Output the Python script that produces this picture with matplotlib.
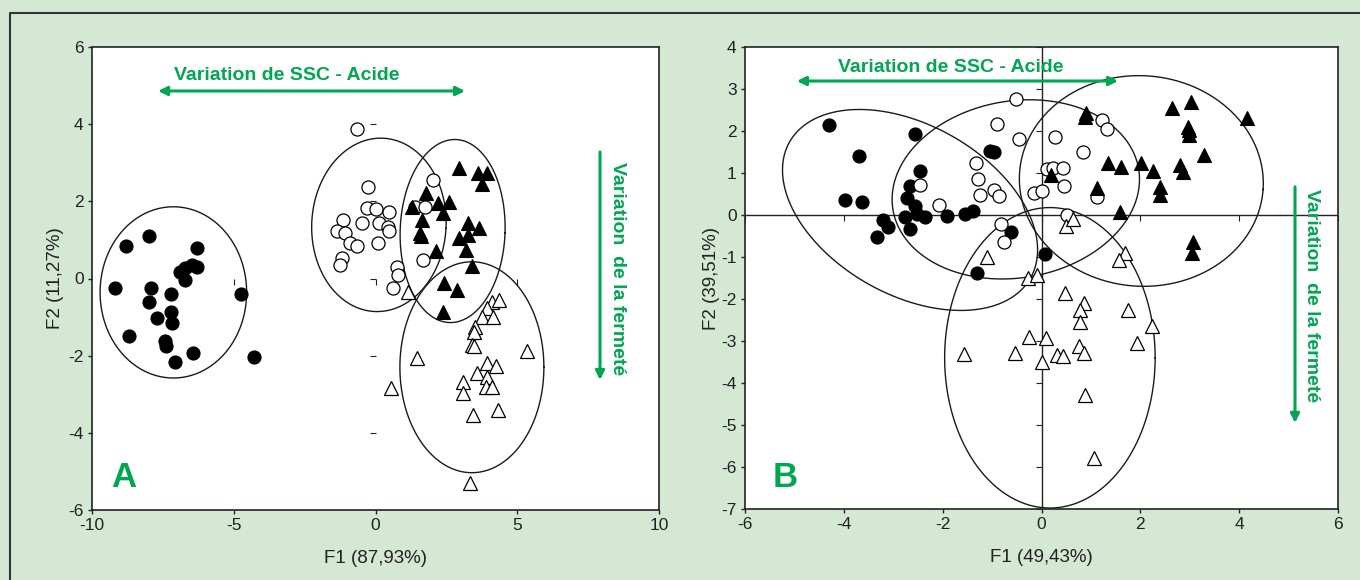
import numpy as np
import matplotlib
matplotlib.use('agg')
import matplotlib.pyplot as plt
from matplotlib.lines import Line2D
from matplotlib.markers import TICKDOWN, TICKLEFT

plt.rcParams['font.family'] = ['Liberation Sans', 'DejaVu Sans']
plt.rcParams['axes.unicode_minus'] = False

GREEN = '#00a651'
BG = '#d4e8d4'
NARROW = ['Liberation Sans Narrow', 'Liberation Sans', 'DejaVu Sans']

# ---- panel A data (F1 87,93% / F2 11,27%) ----
a_fc_x = [-8.80, -7.98, -6.31, -6.90, -6.72, -6.48, -6.31, -6.72, -9.19, -7.93, -7.22,
          -7.98, -4.74, -7.72, -7.22, -7.17, -8.68, -7.43, -7.39, -6.43, -7.07, -4.29]
a_fc_y = [0.85, 1.09, 0.79, 0.18, 0.27, 0.35, 0.31, -0.04, -0.25, -0.25, -0.41,
          -0.60, -0.41, -1.03, -0.88, -1.16, -1.49, -1.63, -1.76, -1.94, -2.17, -2.04]

a_oc_x = [-0.66, -0.28, -0.31, 0.02, 0.49, -1.14, -0.47, 0.13, 0.45, 0.49, -1.37, -1.08,
          -0.90, -0.66, 0.08, -1.19, -1.25, 0.75, 0.80, 0.63, 2.04, 1.39, 1.75, 1.69]
a_oc_y = [3.87, 2.37, 1.84, 1.80, 1.73, 1.52, 1.45, 1.45, 1.34, 1.22, 1.22, 1.19,
          0.91, 0.84, 0.93, 0.53, 0.35, 0.31, 0.09, -0.25, 2.54, 1.86, 1.85, 0.48]

a_ft_x = [2.96, 3.63, 3.92, 3.75, 1.78, 1.28, 2.22, 2.59, 2.37, 1.63, 1.57, 1.59,
          3.27, 3.65, 2.96, 3.27, 3.19, 2.13, 3.39, 2.43, 2.89, 2.39]
a_ft_y = [2.86, 2.73, 2.73, 2.45, 2.21, 1.86, 1.95, 1.97, 1.69, 1.52, 1.17, 1.09,
          1.43, 1.30, 1.04, 1.13, 0.74, 0.70, 0.33, -0.12, -0.30, -0.86]

a_ot_x = [1.16, 4.10, 4.37, 3.94, 3.75, 4.16, 3.51, 3.47, 3.39, 3.49, 1.45, 5.35,
          3.92, 4.25, 3.57, 3.10, 3.94, 3.90, 4.10, 3.08, 0.54, 4.33, 3.45, 3.33]
a_ot_y = [-0.34, -0.60, -0.55, -0.77, -1.00, -0.99, -1.25, -1.38, -1.72, -1.75, -2.06, -1.87,
          -2.19, -2.28, -2.45, -2.67, -2.54, -2.80, -2.80, -2.97, -2.84, -3.40, -3.53, -5.30]

# group ellipses: centre x, centre y, semi-axis a, semi-axis b (x units), angle (deg)
a_ell = [(-7.13, -0.36, 2.585, 3.02, 0),
         (0.12, 1.39, 2.37, 3.06, -3),
         (2.72, 1.23, 1.85, 3.23, -2),
         (3.40, -2.30, 2.54, 3.72, 0)]

# ---- panel B data (F1 49,43% / F2 39,51%) ----
b_fc_x = [-4.30, -2.56, -3.69, -1.04, -0.97, -2.46, -2.66, -3.98, -3.64, -2.73, -2.56, -2.76,
          -2.52, -2.36, -3.20, -3.10, -3.33, -2.67, -1.91, -1.55, -1.38, -0.61, -1.30, 0.08]
b_fc_y = [2.14, 1.92, 1.41, 1.52, 1.51, 1.05, 0.69, 0.36, 0.30, 0.40, 0.21, -0.04,
          0.02, -0.04, -0.12, -0.28, -0.52, -0.33, -0.02, 0.02, 0.10, -0.41, -1.37, -0.92]

b_oc_x = [-0.52, -0.90, -0.45, -1.32, -1.28, -1.24, -0.97, -0.87, -2.46, -2.07, -0.82, -0.76,
          1.22, 1.33, 0.28, 0.84, 0.11, 0.24, 0.44, 0.46, -0.16, 0.01, 1.12, 0.52]
b_oc_y = [2.77, 2.16, 1.80, 1.23, 0.85, 0.48, 0.60, 0.45, 0.71, 0.24, -0.21, -0.65,
          2.26, 2.04, 1.86, 1.51, 1.09, 1.11, 1.11, 0.69, 0.53, 0.58, 0.44, -0.01]

b_ft_x = [0.90, 0.88, 2.64, 3.03, 4.16, 2.97, 2.99, 2.99, 3.28, 0.19, 1.35, 1.61,
          2.01, 2.25, 2.81, 2.87, 2.39, 2.39, 1.13, 1.58, 3.06, 3.04]
b_ft_y = [2.42, 2.34, 2.54, 2.70, 2.30, 2.10, 2.02, 1.90, 1.43, 0.95, 1.23, 1.15,
          1.25, 1.05, 1.19, 1.03, 0.67, 0.48, 0.65, 0.08, -0.64, -0.90]

b_ot_x = [0.50, 0.63, 1.69, 1.56, -1.11, -0.27, -0.10, 0.48, 0.85, 0.77, 0.78, 1.76, 2.23,
          -0.25, 0.09, 1.93, 0.75, 0.87, -1.56, -0.53, 0.31, 0.44, 0.01, 0.88, 1.07]
b_ot_y = [-0.26, -0.10, -0.91, -1.07, -0.99, -1.51, -1.43, -1.86, -2.10, -2.25, -2.54, -2.26, -2.64,
          -2.90, -2.92, -3.04, -3.12, -3.28, -3.32, -3.29, -3.33, -3.36, -3.49, -4.29, -5.79]

b_ell = [(-2.66, 0.12, 2.80, 1.72, -29.4),
         (-0.52, 0.61, 2.52, 1.79, 9.4),
         (2.02, 0.81, 2.47, 2.13, -4),
         (0.17, -3.40, 2.13, 3.04, 0)]

a_xticks = [-10, -5, 0, 5, 10]
a_yticks = [-6, -4, -2, 0, 2, 4, 6]
b_xticks = [-6, -4, -2, 0, 2, 4, 6]
b_yticks = list(range(-7, 5))

W, H = 13.6, 5.8
fig = plt.figure(figsize=(W, H), dpi=100, facecolor=BG)


def draw_ellipse(ax, cx, cy, a, b, ang, k):
    t = np.linspace(0, 2 * np.pi, 400)
    u, v = a * np.cos(t), b * np.sin(t)
    r = np.radians(ang)
    dx = u * np.cos(r) - v * np.sin(r)
    dy = (u * np.sin(r) + v * np.cos(r)) * k
    ax.plot(cx + dx, cy + dy, color='#1a1a1a', lw=1.0, zorder=2)


def setup(rect, xlim, ylim, xt, yt):
    ax = fig.add_axes(rect)
    ax.set_facecolor('white')
    ax.set_xlim(*xlim)
    ax.set_ylim(*ylim)
    ax.set_xticks(xt)
    ax.set_yticks(yt)
    ax.tick_params(direction='out', length=3, width=1, pad=3, labelsize=12.5, colors='#222')
    for s in ax.spines.values():
        s.set_linewidth(1.2)
        s.set_color('#222')
    # pixel ratio x-unit / y-unit
    w_px = rect[2] * W * 100 / (xlim[1] - xlim[0])
    h_px = rect[3] * H * 100 / (ylim[1] - ylim[0])
    return ax, w_px / h_px


def points(ax, fc, oc, ft, ot):
    ax.plot(*fc, 'o', ms=9.4, mfc='black', mec='black', mew=0.8, ls='none', zorder=3)
    ax.plot(*oc, 'o', ms=9.4, mfc='white', mec='black', mew=0.9, ls='none', zorder=4)
    ax.plot(*ot, '^', ms=10.5, mfc='white', mec='black', mew=0.9, ls='none', zorder=5)
    ax.plot(*ft, '^', ms=10.5, mfc='black', mec='black', mew=0.8, ls='none', zorder=6)


def arrows(ax, hx0, hx1, hy, tx, ty, vx, vy0, vy1, vtx, vty):
    ax.annotate('', xy=(hx1, hy), xytext=(hx0, hy),
                arrowprops=dict(arrowstyle='<|-|>', color=GREEN, lw=2.2, mutation_scale=13,
                                shrinkA=0, shrinkB=0))
    ax.text(tx, ty, 'Variation de SSC - Acide', color=GREEN, fontsize=14,
            fontweight='bold', family=NARROW, ha='center', va='center')
    ax.annotate('', xy=(vx, vy1), xytext=(vx, vy0),
                arrowprops=dict(arrowstyle='-|>', color=GREEN, lw=2.2, mutation_scale=13,
                                shrinkA=0, shrinkB=0))
    ax.text(vtx, vty, 'Variation  de la fermeté', color=GREEN, fontsize=14, rotation=-90,
            fontweight='bold', family=NARROW, ha='center', va='center')


# ---------------- panel A ----------------
axA, kA = setup([92 / 1360, 70 / 580, 567 / 1360, 463 / 580], (-10, 10), (-6, 6), a_xticks, a_yticks)
for e in a_ell:
    draw_ellipse(axA, *e, kA)
points(axA, (a_fc_x, a_fc_y), (a_oc_x, a_oc_y), (a_ft_x, a_ft_y), (a_ot_x, a_ot_y))
# hidden origin axes: only their tick marks remain
axA.plot([-5, 0, 5], [0, 0, 0], ls='none', marker=TICKDOWN, ms=4, mec='#222', mew=0.8, zorder=1)
axA.plot([0] * 5, [-4, -2, 0, 2, 4], ls='none', marker=TICKLEFT, ms=4, mec='#222', mew=0.8, zorder=1)
axA.set_xlabel('F1 (87,93%)', fontsize=13.5, color='#222', labelpad=12)
axA.set_ylabel('F2 (11,27%)', fontsize=13.5, color='#222', labelpad=3)
arrows(axA, -7.67, 3.16, 4.86, -3.12, 5.27, 7.92, 3.28, -2.63, 8.52, 0.27)
axA.text(-8.87, -5.17, 'A', color=GREEN, fontsize=25, fontweight='bold', ha='center', va='center')

# ---------------- panel B ----------------
axB, kB = setup([745 / 1360, 71 / 580, 593 / 1360, 462 / 580], (-6, 6), (-7, 4), b_xticks, b_yticks)
axB.axhline(0, color='#222', lw=1.0, zorder=1)
axB.axvline(0, color='#222', lw=1.0, zorder=1)
axB.plot(b_xticks, [0] * len(b_xticks), ls='none', marker=TICKDOWN, ms=4, mec='#222', mew=0.8, zorder=1)
axB.plot([0] * len(b_yticks), b_yticks, ls='none', marker=TICKLEFT, ms=4, mec='#222', mew=0.8, zorder=1)
for e in b_ell:
    draw_ellipse(axB, *e, kB)
points(axB, (b_fc_x, b_fc_y), (b_oc_x, b_oc_y), (b_ft_x, b_ft_y), (b_ot_x, b_ot_y))
axB.set_xlabel('F1 (49,43%)', fontsize=13.5, color='#222', labelpad=12)
axB.set_ylabel('F2 (39,51%)', fontsize=13.5, color='#222', labelpad=1)
arrows(axB, -4.95, 1.55, 3.19, -1.83, 3.52, 5.13, 0.67, -4.95, 5.47, -1.93)
axB.text(-5.19, -6.26, 'B', color=GREEN, fontsize=25, fontweight='bold', ha='center', va='center')

# outer frame (left and top edges visible)
fig.add_artist(Line2D([10 / 1360, 10 / 1360, 1.0], [0.0, 1 - 13 / 580, 1 - 13 / 580],
                      transform=fig.transFigure, color='#333', lw=1.5))

fig.savefig('out.png', dpi=100, facecolor=BG)
plt.close(fig)
